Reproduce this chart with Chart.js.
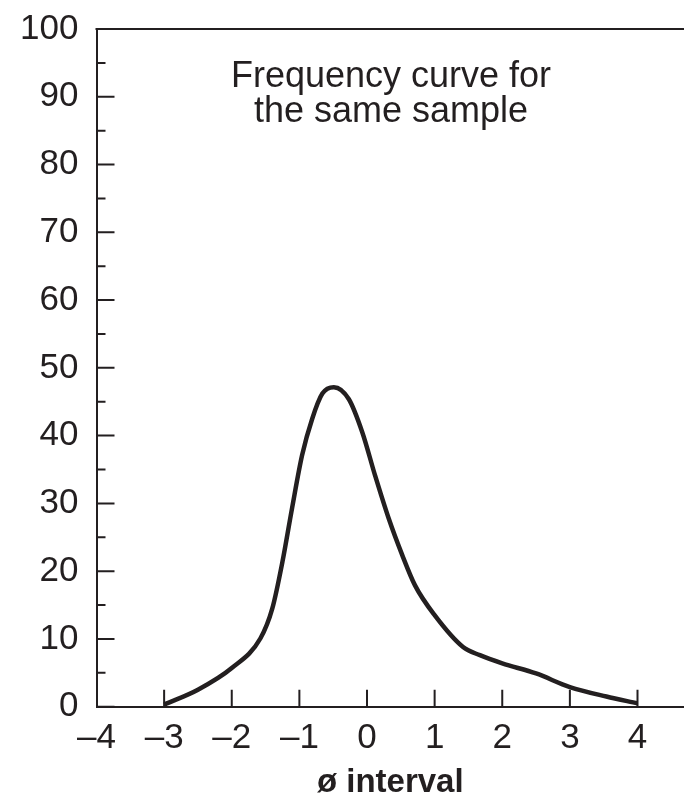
<!DOCTYPE html>
<html>
<head>
<meta charset="utf-8">
<script src="https://cdn.jsdelivr.net/npm/chart.js@4"></script>
<style>
  html, body { margin: 0; padding: 0; background: #fff; }
  canvas { display: block; }
</style>
</head>
<body>
<canvas id="chart" width="684" height="797"></canvas>
<script>
// --- Data ---
const phiValues = [-3, -2.5, -2, -1.575, -1.4, -1.25, -1.11, -0.96, -0.81, -0.66, -0.49, -0.27,
                   -0.07, 0.12, 0.32, 0.52, 0.71, 1, 1.42, 1.67, 2, 2.5, 3, 3.54, 4];
const frequency = [0.3, 2.5, 5.7, 10.1, 14.5, 21.4, 29.2, 37.1, 42.5, 46.2, 47.15, 45.4,
                   40.5, 34.1, 27.8, 22.4, 17.9, 13.5, 8.8, 7.6, 6.4, 4.9, 2.9, 1.5, 0.5];
const xTickValues = [-4, -3, -2, -1, 0, 1, 2, 3, 4];
const yTickValues = [0, 10, 20, 30, 40, 50, 60, 70, 80, 90, 100];
const yMinorValues = [5, 15, 25, 35, 45, 55, 65, 75, 85, 95];
const noteLines = ['Frequency curve for', 'the same sample'];
const xTitle = 'ø interval';

const INK = '#231f20';
const FONT = '"Liberation Sans", Arial, Helvetica, sans-serif';

// --- Inward ticks, top frame line and the in-plot note ---
const frameAndNote = {
    id: 'frameAndNote',
    afterDraw(chart) {
        const { ctx, chartArea, scales } = chart;
        const x0 = chartArea.left, y0 = chartArea.bottom;
        ctx.save();
        ctx.strokeStyle = INK;
        ctx.lineWidth = 2;
        ctx.beginPath();
        // top frame
        ctx.moveTo(x0 - 1, chartArea.top);
        ctx.lineTo(chartArea.right, chartArea.top);
        // y ticks (major + minor), pointing into the plot
        yTickValues.forEach(v => {
            const y = scales.y.getPixelForValue(v);
            ctx.moveTo(x0, y);
            ctx.lineTo(x0 + 18, y);
        });
        yMinorValues.forEach(v => {
            const y = scales.y.getPixelForValue(v);
            ctx.moveTo(x0, y);
            ctx.lineTo(x0 + 9, y);
        });
        // x ticks, pointing up
        xTickValues.slice(1).forEach(v => {
            const x = scales.x.getPixelForValue(v);
            ctx.moveTo(x, y0);
            ctx.lineTo(x, y0 - 17);
        });
        ctx.stroke();

        ctx.fillStyle = INK;
        ctx.font = '36px ' + FONT;
        ctx.textAlign = 'center';
        ctx.textBaseline = 'alphabetic';
        noteLines.forEach((line, i) => ctx.fillText(line, 391, 87 + i * 35));
        ctx.restore();
    }
};

const ctx = document.getElementById('chart').getContext('2d');
const xUnitsPerPx = 8 / 541;

new Chart(ctx, {
    type: 'line',
    data: {
        datasets: [{
            data: phiValues.map((x, i) => ({ x, y: frequency[i] })),
            borderColor: INK,
            borderWidth: 4.5,
            pointRadius: 0,
            fill: false,
            cubicInterpolationMode: 'monotone'
        }]
    },
    options: {
        responsive: false,
        animation: false,
        layout: { padding: { top: 29, right: 0, left: 0, bottom: 0 } },
        plugins: { legend: { display: false }, tooltip: { enabled: false } },
        scales: {
            x: {
                type: 'linear',
                min: -4,
                max: -4 + (684 - 96.5) * xUnitsPerPx,
                afterBuildTicks: scale => { scale.ticks = xTickValues.map(value => ({ value })); },
                afterFit: scale => { scale.height = 797 - 706.7; },
                grid: { display: false, drawTicks: false, tickLength: 0 },
                border: { display: true, color: INK, width: 2 },
                ticks: {
                    color: INK,
                    padding: 11,
                    maxRotation: 0,
                    autoSkip: false,
                    font: { family: FONT, size: 35 },
                    callback: v => (v < 0 ? '\u2013' + Math.abs(v) : String(v))
                },
                title: {
                    display: true,
                    text: xTitle,
                    color: INK,
                    padding: { top: 0, bottom: 0 },
                    font: { family: FONT, size: 33, weight: 'bold', lineHeight: 0.86 }
                }
            },
            y: {
                min: 0,
                max: 100,
                afterBuildTicks: scale => { scale.ticks = yTickValues.map(value => ({ value })); },
                afterFit: scale => { scale.width = 96.5; },
                grid: { display: false, drawTicks: false, tickLength: 0 },
                border: { display: true, color: INK, width: 2 },
                ticks: {
                    color: INK,
                    padding: 18,
                    autoSkip: false,
                    font: { family: FONT, size: 35, lineHeight: 0.6 }
                }
            }
        }
    },
    plugins: [frameAndNote]
});
</script>
</body>
</html>
